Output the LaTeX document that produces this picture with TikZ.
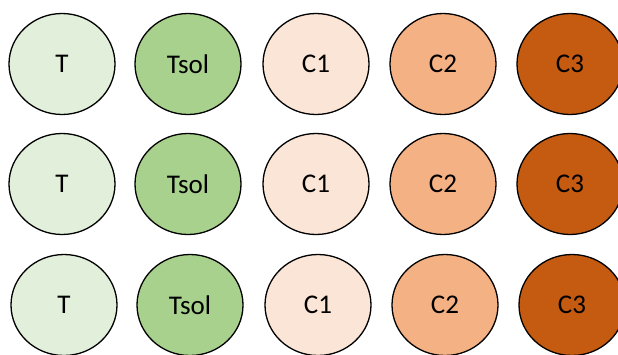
\documentclass[tikz,border=0pt]{standalone}
\usepackage{fontspec}
\setmainfont{Carlito}
\usetikzlibrary{shapes.geometric}
\definecolor{cT}{HTML}{E2EFDA}
\definecolor{cTsol}{HTML}{A9D18E}
\definecolor{cCa}{HTML}{FBE5D6}
\definecolor{cCb}{HTML}{F4B183}
\definecolor{cCc}{HTML}{C55A11}
\tikzset{
  blob/.style={ellipse, draw=black, line width=1.3pt, inner sep=0pt,
    minimum width=106pt, minimum height=101pt, font=\fontsize{27}{27}\selectfont}
}
\begin{document}
\begin{tikzpicture}[x=1pt,y=-1pt]
\useasboundingbox (0,0) rectangle (618,354);
\foreach \r/\y/\dx in {1/64/0, 2/184/0, 3/305/2} {
  \node[blob, fill=cT]    (T\r)    at (62+\dx,\y)  {T};
  \node[blob, fill=cTsol] (Tsol\r) at (188+\dx,\y) {Tsol};
  \node[blob, fill=cCa]   (Ca\r)   at (316+\dx,\y) {C1};
  \node[blob, fill=cCb]   (Cb\r)   at (443+\dx,\y) {C2};
  \node[blob, fill=cCc]   (Cc\r)   at (570+\dx,\y) {C3};
}
\end{tikzpicture}
\end{document}
